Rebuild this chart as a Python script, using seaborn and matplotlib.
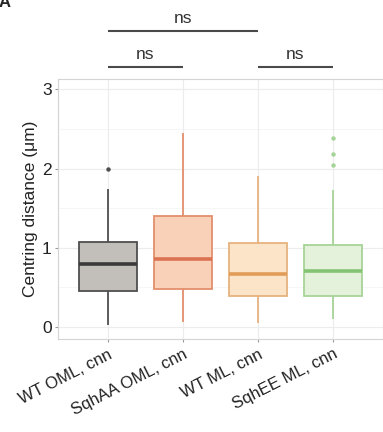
import numpy as np
import pandas as pd
import matplotlib
matplotlib.use("Agg")
import matplotlib.pyplot as plt
import seaborn as sns

# ---- data (summary statistics) ----
cats = ["WT OML, cnn", "SqhAA OML, cnn", "WT ML, cnn", "SqhEE ML, cnn"]
whislo = [0.03, 0.07, 0.05, 0.10]
q1 = [0.455, 0.48, 0.39, 0.39]
median = [0.79, 0.86, 0.67, 0.71]
q3 = [1.07, 1.40, 1.06, 1.04]
whishi = [1.74, 2.45, 1.91, 1.73]
outliers = [[2.0], [], [], [2.05, 2.18, 2.38]]

fills = ["#c2beb9", "#f9d0b8", "#fce4c9", "#e4f2dc"]
edges = ["#4f4f4f", "#e38f6d", "#e6b27e", "#a6d398"]
meds = ["#3a3a3a", "#db7352", "#e19d58", "#85c473"]

comparisons = [(0, 1, "ns"), (2, 3, "ns"), (0, 2, "ns")]
comp_levels = [3.28, 3.28, 3.73]

# Build long-form data reproducing the summary statistics
rows = []
for i, c in enumerate(cats):
    vals = [whislo[i]] + [q1[i]] * 20 + [median[i]] * 20 + [q3[i]] * 20 + [whishi[i]] + outliers[i]
    rows += [(c, v) for v in vals]
df = pd.DataFrame(rows, columns=["group", "value"])

sns.set_style("white")
plt.rcParams["font.family"] = ["Liberation Sans", "DejaVu Sans"]
FS = 12.5

fig = plt.figure(figsize=(3.83, 4.32), dpi=100)
ax = fig.add_axes([58 / 383, 1 - 339 / 432, 1 - 58 / 383, (339 - 79) / 432])

# grid
for y in [0, 1, 2, 3]:
    ax.axhline(y, color="#ececec", lw=0.8, zorder=0)
for y in [0.5, 1.5, 2.5]:
    ax.axhline(y, color="#f5f5f5", lw=0.6, zorder=0)
for x in range(len(cats)):
    ax.axvline(x, color="#ececec", lw=0.8, zorder=0)

for i, c in enumerate(cats):
    sns.boxplot(
        data=df[df.group == c], x="group", y="value", order=cats,
        color=fills[i], linecolor=edges[i], saturation=1, width=0.78,
        linewidth=1.3, showcaps=False, fliersize=2.2,
        medianprops=dict(color=meds[i], linewidth=2.6),
        flierprops=dict(marker="o", markerfacecolor=edges[i], markeredgecolor=edges[i]),
        ax=ax, zorder=2,
    )

ax.set_ylim(-0.15, 3.13)
ax.set_xlim(-0.667, 3.667)
ax.set_yticks([0, 1, 2, 3])
ax.set_yticklabels(["0", "1", "2", "3"], fontsize=FS, color="#222222")
ax.set_xticks(range(len(cats)))
ax.set_xticklabels(cats, rotation=27, ha="right", rotation_mode="anchor", fontsize=12, color="#222222")
ax.set_xlabel("")
ax.set_ylabel("Centring distance (\u03bcm)", fontsize=FS, color="#222222", labelpad=3)
ax.tick_params(axis="both", length=2.5, width=0.8, color="#999999", pad=2, left=True, bottom=True)
ax.tick_params(axis="x", pad=3)
for s in ax.spines.values():
    s.set_color("#d4d4d4")
    s.set_linewidth(0.8)

# significance brackets
for (a, b, lab), lev in zip(comparisons, comp_levels):
    ax.plot([a, b], [lev, lev], color="#4a4a4a", lw=1.5, clip_on=False, solid_capstyle="butt")
    ax.text((a + b) / 2, lev + 0.07, lab, ha="center", va="bottom", fontsize=FS,
            color="#333333", clip_on=False)

fig.text(-0.004, 0.995, "A", fontsize=12, fontweight="bold", ha="left", va="center")

fig.savefig("out.png", dpi=100)
